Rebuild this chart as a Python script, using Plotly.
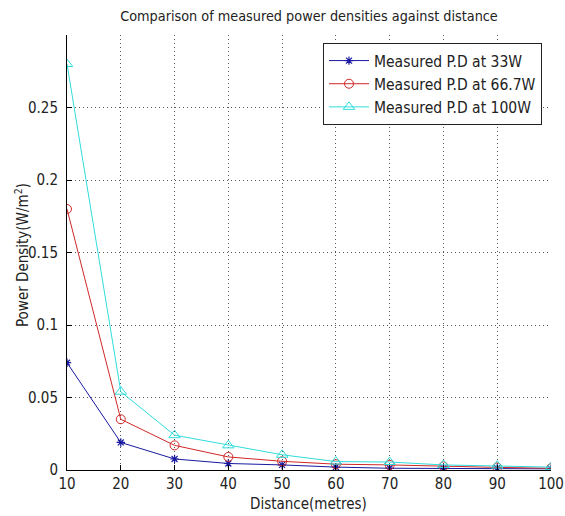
import plotly.graph_objects as go

distance = [10, 20, 30, 40, 50, 60, 70, 80, 90, 100]
pd_33w = [0.074, 0.019, 0.0076, 0.0045, 0.0035, 0.002, 0.0012, 0.0012, 0.0012, 0.0008]
pd_667w = [0.18, 0.035, 0.017, 0.009, 0.006, 0.004, 0.0035, 0.0025, 0.0018, 0.0012]
pd_100w = [0.28, 0.054, 0.024, 0.017, 0.0105, 0.0058, 0.0055, 0.0035, 0.003, 0.002]
y_ticks = [0, 0.05, 0.1, 0.15, 0.2, 0.25]
y_tick_text = ["0", "0.05", "0.1", "0.15", "0.2", "0.25"]
x_ticks = [10, 20, 30, 40, 50, 60, 70, 80, 90, 100]

FONT = "DejaVu Sans Condensed, Liberation Sans Narrow, Liberation Sans, sans-serif"
TXT = "#222"
GRID = dict(showgrid=True, gridcolor="#555", griddash="1px,3px", gridwidth=1)

SW, SH = 565, 516
# plot area in screen pixels
L, R, T, B = 67, 551, 35, 470
W, H = R - L, B - T


def px(x):
    return (x - L) / W


def py(y):
    return (B - y) / H


fig = go.Figure()
fig.add_trace(go.Scatter(x=distance, y=pd_33w, mode="lines+markers",
                         name="Measured P.D at 33W",
                         line=dict(color="#1a1aa0", width=1),
                         marker=dict(symbol="asterisk-open", size=7,
                                     line=dict(color="#1a1aa0", width=1.2))))
fig.add_trace(go.Scatter(x=distance, y=pd_667w, mode="lines+markers",
                         name="Measured P.D at 66.7W",
                         line=dict(color="#d02828", width=1),
                         marker=dict(symbol="circle-open", size=9,
                                     line=dict(color="#d02828", width=1))))
fig.add_trace(go.Scatter(x=distance, y=pd_100w, mode="lines+markers",
                         name="Measured P.D at 100W",
                         line=dict(color="#30dcdc", width=1),
                         marker=dict(symbol="triangle-up-open", size=10,
                                     line=dict(color="#30dcdc", width=1))))

fig.update_layout(
    width=SW, height=SH,
    paper_bgcolor="white", plot_bgcolor="white",
    margin=dict(l=L, r=SW - R, t=T, b=SH - B),
    font=dict(family=FONT, size=14, color=TXT),
    title=dict(text="Comparison of measured power densities against distance",
               x=309 / SW, xanchor="center",
               y=1 - 16 / SH, yanchor="middle",
               font=dict(family=FONT, size=14.3, color=TXT)),
    xaxis=dict(range=[10, 100], tickvals=x_ticks, ticks="inside", ticklen=5,
               tickcolor="black", showline=True, linecolor="black", linewidth=1,
               zeroline=False, automargin=False, ticklabelstandoff=0,
               tickfont=dict(family=FONT, size=15, color=TXT), **GRID),
    yaxis=dict(range=[0, 0.3], tickvals=y_ticks, ticktext=y_tick_text,
               ticks="inside", ticklen=5, tickcolor="black",
               showline=True, linecolor="black", linewidth=1,
               zeroline=False, automargin=False, ticklabelstandoff=5,
               tickfont=dict(family=FONT, size=15, color=TXT), **GRID),
    legend=dict(x=px(323), y=py(43), xanchor="left", yanchor="top",
                bgcolor="white", bordercolor="#222", borderwidth=1,
                font=dict(family=FONT, size=15.5, color=TXT), itemwidth=40,
                tracegroupgap=0),
    annotations=[
        dict(text="Distance(metres)", x=px(308), y=py(504),
             xref="paper", yref="paper", xanchor="center", yanchor="middle",
             showarrow=False, font=dict(family=FONT, size=15, color=TXT)),
        dict(text="Power Density(W/m<sup>2</sup>)", x=px(22), y=py(255),
             xref="paper", yref="paper", xanchor="center", yanchor="middle",
             textangle=-90, showarrow=False,
             font=dict(family=FONT, size=15, color=TXT)),
    ],
    showlegend=True,
)

fig.write_html(
    "out.html",
    config={"displayModeBar": False},
    post_script="document.body.style.margin='0';"
                "document.body.style.overflow='hidden';",
)
